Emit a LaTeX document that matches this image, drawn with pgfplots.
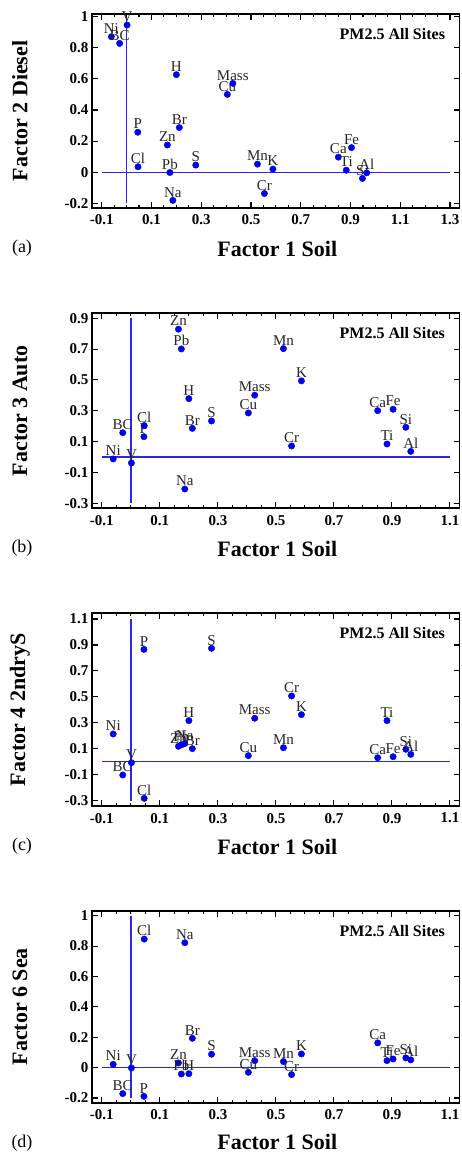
\documentclass[border=0pt]{standalone}
\usepackage{pgfplots}
\pgfplotsset{compat=1.18}
\usepackage{pgfplotstable}
\usepackage{fontspec}
\setmainfont{Liberation Serif}

\definecolor{ptblue}{RGB}{0,0,235}
\definecolor{lnblue}{RGB}{40,40,230}

% factor loadings
\pgfplotstableread{
label f1     f2     f3     f4     f6
Ni   -0.061  0.871 -0.012  0.214  0.022
BC   -0.028  0.828  0.158 -0.102 -0.171
V     0.002  0.946 -0.038 -0.007 -0.002
P     0.045  0.257  0.132  0.866 -0.189
Cl    0.046  0.035  0.204 -0.282  0.846
Zn    0.164  0.175  0.829  0.119  0.031
Pb    0.174 -0.002  0.701  0.130 -0.042
Na    0.186 -0.181 -0.207  0.140  0.822
H     0.200  0.627  0.379  0.317 -0.040
Br    0.212  0.287  0.186  0.101  0.193
S     0.278  0.046  0.234  0.874  0.088
Cu    0.405  0.500  0.286  0.047 -0.031
Mass  0.427  0.571  0.401  0.335  0.046
Mn    0.526  0.052  0.703  0.108  0.040
Cr    0.554 -0.137  0.072  0.507 -0.046
K     0.588  0.020  0.494  0.363  0.090
Ca    0.851  0.097  0.301  0.031  0.163
Ti    0.883  0.013  0.085  0.317  0.046
Fe    0.904  0.158  0.310  0.039  0.057
Si    0.948 -0.040  0.193  0.096  0.064
Al    0.965 -0.004  0.037  0.057  0.051
}\loadings

\pgfplotsset{
  panel/.style={
    scale only axis, width=367.5pt, anchor=north west, clip=false,
    xmin=-0.134, xmax=1.133,
    xtick={-0.1,0.1,0.3,0.5,0.7,0.9,1.1},
    xticklabels={-0.1,0.1,0.3,0.5,0.7,0.9,1.1},
    minor x tick num=3,
    major tick length=6pt, minor tick length=3pt,
    tick style={black, line width=1.1pt},
    axis line style={black, line width=1.8pt},
    tick label style={font=\fontsize{15}{17}\selectfont\bfseries},
    xticklabel style={yshift=-3.5pt},
    label style={font=\fontsize{22}{26}\selectfont\bfseries},
    xlabel={Factor 1 Soil},
    xlabel style={at={(axis description cs:0.5,0)}, anchor=center, yshift=-41pt, xshift=1.5pt},
    ylabel style={at={(axis description cs:-0.196,0.5)}, anchor=center},
  },
  pts/.style={only marks, mark=*, mark size=3.2pt, color=ptblue,
    nodes near coords, point meta=explicit symbolic,
    every node near coord/.append style={font=\fontsize{15}{17}\selectfont,
      text=black!85, anchor=base, yshift=3.3pt, inner sep=0pt}},
  refline/.style={color=lnblue, line width=1.4pt, no marks},
}

\newcommand{\decor}[1]{%
  \node[anchor=east, font=\fontsize{16}{18}\selectfont\bfseries]
    at (rel axis cs:1,1) [xshift=-11pt, yshift=-20pt] {PM2.5 All Sites};
  \node[font=\fontsize{18}{20}\selectfont]
    at (rel axis cs:0,0) [xshift=-70pt, yshift=-40pt] {#1};
}

\begin{document}
\begin{tikzpicture}
\path[use as bounding box] (0pt,0pt) rectangle (461pt,-1153pt);

\begin{axis}[panel, at={(92pt,-14pt)}, height=193.7pt,
  xmin=-0.139, xmax=1.338,
  xtick={-0.1,0.1,0.3,0.5,0.7,0.9,1.1,1.3},
  xticklabels={-0.1,0.1,0.3,0.5,0.7,0.9,1.1,1.3},
  ymin=-0.228, ymax=1.017,
  ytick={-0.2,0,0.2,0.4,0.6,0.8,1},
  yticklabels={-0.2,0,0.2,0.4,0.6,0.8,1},
  ylabel={Factor 2 Diesel}]
\addplot[refline] coordinates {(-0.1,0) (1.3,0)};
\addplot[refline] coordinates {(0,-0.2) (0,1)};
\addplot[pts] table[x=f1, y=f2, meta=label] {\loadings};
\decor{(a)}
\end{axis}

\begin{axis}[panel, at={(92pt,-313.3pt)}, height=195pt,
  ymin=-0.332, ymax=0.932,
  ytick={-0.3,-0.1,0.1,0.3,0.5,0.7,0.9},
  yticklabels={-0.3,-0.1,0.1,0.3,0.5,0.7,0.9},
  ylabel={Factor 3 Auto}]
\addplot[refline] coordinates {(-0.1,0) (1.1,0)};
\addplot[refline] coordinates {(0,-0.3) (0,0.9)};
\addplot[pts] table[x=f1, y=f3, meta=label] {\loadings};
\decor{(b)}
\end{axis}

\begin{axis}[panel, at={(92pt,-613.3pt)}, height=192.7pt,
  ymin=-0.341, ymax=1.144,
  ytick={-0.3,-0.1,0.1,0.3,0.5,0.7,0.9,1.1},
  yticklabels={-0.3,-0.1,0.1,0.3,0.5,0.7,0.9,1.1},
  ylabel={Factor 4 2ndryS}]
\addplot[refline] coordinates {(-0.1,0) (1.1,0)};
\addplot[refline] coordinates {(0,-0.3) (0,1.1)};
\addplot[pts] table[x=f1, y=f4, meta=label] {\loadings};
\decor{(c)}
\end{axis}

\begin{axis}[panel, at={(92pt,-910.7pt)}, height=192pt,
  ymin=-0.231, ymax=1.033,
  ytick={-0.2,0,0.2,0.4,0.6,0.8,1},
  yticklabels={-0.2,0,0.2,0.4,0.6,0.8,1},
  ylabel={Factor 6 Sea},
  xlabel style={yshift=2pt}]
\addplot[refline] coordinates {(-0.1,0) (1.1,0)};
\addplot[refline] coordinates {(0,-0.2) (0,1)};
\addplot[pts] table[x=f1, y=f6, meta=label] {\loadings};
\decor{(d)}
\end{axis}
\end{tikzpicture}
\end{document}
